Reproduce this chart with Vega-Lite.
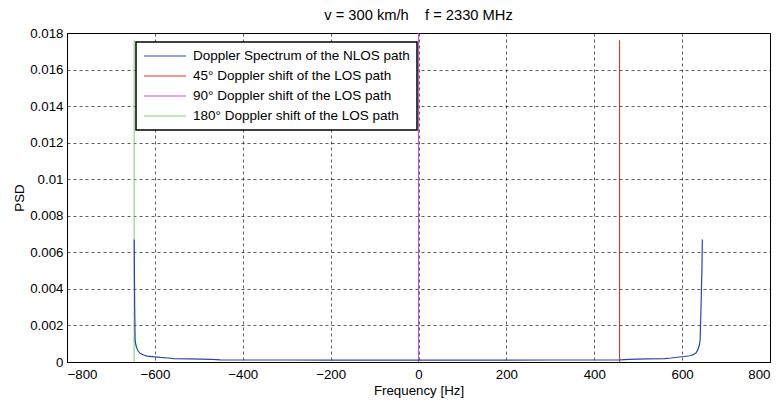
{
  "$schema": "https://vega.github.io/schema/vega-lite/v6.json",
  "autosize": {"type": "none"},
  "padding": {"left": 67, "top": 33, "right": 12, "bottom": 41},
  "width": 703,
  "height": 329,
  "background": "white",
  "title": {
    "text": "v = 300 km/h\u00a0\u00a0\u00a0\u00a0f = 2330 MHz",
    "font": "Liberation Sans",
    "fontSize": 14.7,
    "fontWeight": "normal",
    "color": "black",
    "anchor": "middle",
    "offset": 3
  },
  "config": {
    "font": "Liberation Sans",
    "view": {"stroke": "black", "strokeWidth": 1},
    "axis": {
      "labelFont": "Liberation Sans",
      "labelFontSize": 13.3,
      "labelColor": "black",
      "labelOverlap": false,
      "titleFont": "Liberation Sans",
      "titleFontSize": 13.3,
      "titleFontWeight": "normal",
      "titleColor": "black",
      "domainColor": "black",
      "ticks": false,
      "grid": true,
      "gridColor": "black",
      "gridDash": [3, 3],
      "gridOpacity": 0.8,
      "gridWidth": 0.8
    },
    "legend": {
      "labelFont": "Liberation Sans",
      "labelFontSize": 13.5,
      "labelColor": "black",
      "symbolType": "M-1,0H6",
      "symbolSize": 144,
      "symbolStrokeWidth": 1.2,
      "symbolFillColor": "transparent",
      "labelOffset": 36,
      "strokeColor": "black",
      "strokeWidth": 1.5,
      "fillColor": "white",
      "padding": 7,
      "rowPadding": 6,
      "labelLimit": 400
    }
  },
  "datasets": {
    "nlos": [
      {"f": -647, "psd": 0.0067},
      {"f": -646.5, "psd": 0.0045},
      {"f": -646, "psd": 0.0032},
      {"f": -645, "psd": 0.0012},
      {"f": -643, "psd": 0.0009},
      {"f": -641, "psd": 0.00075},
      {"f": -638, "psd": 0.0006},
      {"f": -633, "psd": 0.00046},
      {"f": -625, "psd": 0.00038},
      {"f": -618, "psd": 0.00032},
      {"f": -600, "psd": 0.00028},
      {"f": -588, "psd": 0.00025},
      {"f": -570, "psd": 0.00022},
      {"f": -558, "psd": 0.00019},
      {"f": -520, "psd": 0.00017},
      {"f": -470, "psd": 0.00014},
      {"f": -451, "psd": 0.00012},
      {"f": -400, "psd": 0.00011},
      {"f": -300, "psd": 0.00011},
      {"f": -200, "psd": 0.0001},
      {"f": -100, "psd": 0.0001},
      {"f": 0, "psd": 0.0001},
      {"f": 100, "psd": 0.0001},
      {"f": 200, "psd": 0.0001},
      {"f": 300, "psd": 0.00011},
      {"f": 413, "psd": 0.00011},
      {"f": 459, "psd": 0.00012},
      {"f": 480, "psd": 0.00014},
      {"f": 520, "psd": 0.00017},
      {"f": 560, "psd": 0.00019},
      {"f": 575, "psd": 0.00022},
      {"f": 589, "psd": 0.00026},
      {"f": 605, "psd": 0.0003},
      {"f": 618, "psd": 0.00034},
      {"f": 625, "psd": 0.0004},
      {"f": 632, "psd": 0.0005},
      {"f": 636, "psd": 0.00068},
      {"f": 639, "psd": 0.0009},
      {"f": 641, "psd": 0.0012},
      {"f": 643, "psd": 0.003},
      {"f": 645, "psd": 0.005},
      {"f": 646, "psd": 0.0067}
    ],
    "los": [
      {"f": 457.6, "psd": 0.0176, "series": "45° Doppler shift of the LOS path"},
      {"f": 0, "psd": 0.018, "series": "90° Doppler shift of the LOS path"},
      {"f": -647.2, "psd": 0.0176, "series": "180° Doppler shift of the LOS path"}
    ]
  },
  "encoding": {
    "x": {
      "field": "f",
      "type": "quantitative",
      "scale": {"domain": [-800, 800], "nice": false, "zero": false},
      "axis": {"values": [-800, -600, -400, -200, 0, 200, 400, 600, 800], "title": "Frequency [Hz]", "labelPadding": 5, "titlePadding": 3, "labelOverlap": false}
    },
    "y": {
      "field": "psd",
      "type": "quantitative",
      "scale": {"domain": [0, 0.018], "nice": false},
      "axis": {"values": [0, 0.002, 0.004, 0.006, 0.008, 0.01, 0.012, 0.014, 0.016, 0.018], "tickCount": 10, "format": "~g", "title": "PSD", "labelPadding": 4, "titlePadding": 3, "labelOverlap": false}
    },
    "color": {
      "field": "series",
      "type": "nominal",
      "scale": {
        "domain": ["Doppler Spectrum of the NLOS path", "45° Doppler shift of the LOS path", "90° Doppler shift of the LOS path", "180° Doppler shift of the LOS path"],
        "range": ["#2a46a8", "#e0302a", "#c554c5", "#80d480"]
      },
      "legend": {"title": null, "orient": "none", "legendX": 69, "legendY": 9}
    }
  },
  "layer": [
    {
      "data": {"name": "los"},
      "mark": {"type": "rule", "strokeWidth": 1.1},
      "encoding": {
        "y2": {"datum": 0}
      }
    },
    {
      "data": {"name": "nlos"},
      "transform": [{"calculate": "'Doppler Spectrum of the NLOS path'", "as": "series"}],
      "mark": {"type": "line", "strokeWidth": 1.2, "clip": true}
    }
  ]
}
